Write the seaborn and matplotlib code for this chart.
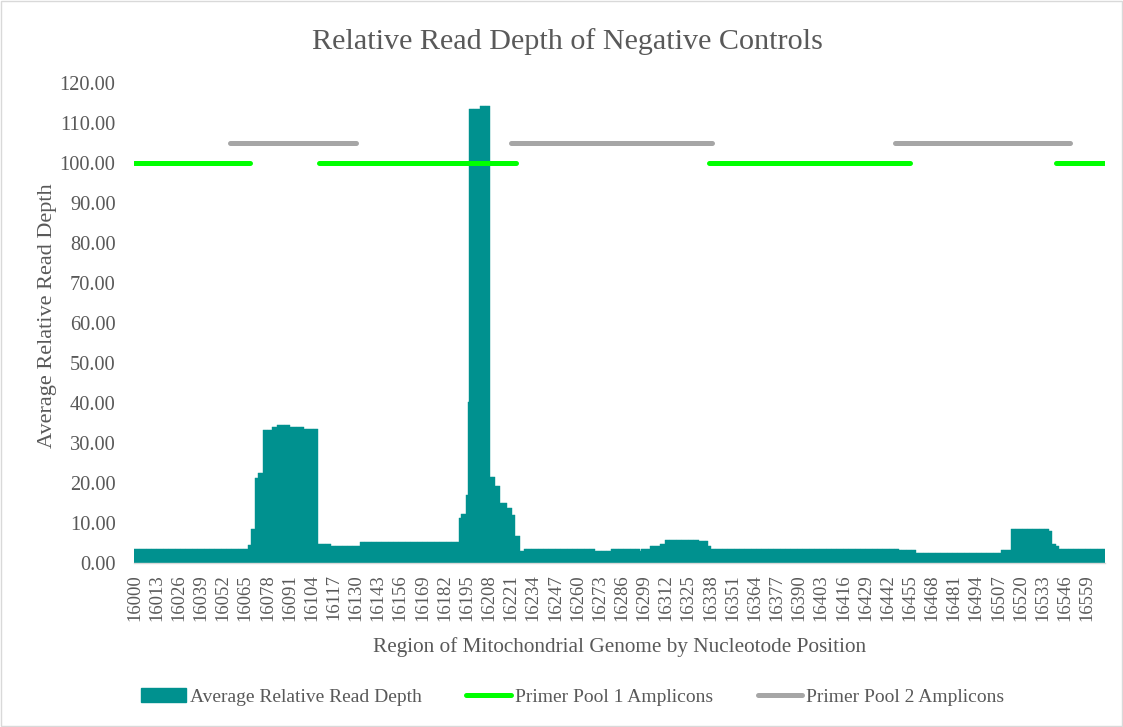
import matplotlib
matplotlib.use("Agg")
import matplotlib.pyplot as plt
from matplotlib.lines import Line2D
from matplotlib.patches import Patch, Rectangle
import seaborn as sns
import numpy as np
import pandas as pd

# nucleotide positions shown on the x axis
positions = list(range(16000, 16570))

# read depth, stored as runs of equal value (run length, value)
run_lengths = [67, 2, 2, 2, 3, 5, 3, 8, 8, 8,
               8, 17, 58, 1, 3, 1, 1, 6, 6, 3,
               3, 4, 3, 2, 3, 2, 42, 9, 17, 1,
               5, 6, 3, 20, 5, 2, 110, 10, 50, 6,
               22, 2, 2, 2, 27]
run_values = [3.6, 4.5, 8.5, 21.3, 22.6, 33.3, 34.1, 34.5, 34.1, 33.5,
              4.7, 4.3, 5.3, 11.3, 12.2, 17.1, 40.2, 113.6, 114.3, 21.5,
              19.3, 15.0, 13.8, 12.0, 6.8, 3.1, 3.6, 3.1, 3.6, 3.1,
              3.6, 4.2, 4.8, 5.8, 5.4, 4.2, 3.6, 3.2, 2.6, 3.2,
              8.5, 7.9, 4.8, 4.2, 3.6]

# amplicon spans (first and last nucleotide), drawn at a fixed level
pool1_amplicons = [(16000, 16068), (16108, 16224), (16337, 16455), (16541, 16569)]
pool2_amplicons = [(16056, 16130), (16221, 16339), (16446, 16549)]
pool1_level = 100
pool2_level = 105

depth = np.repeat(run_values, run_lengths)
df = pd.DataFrame({"position": positions, "depth": depth})

teal = "#00918F"
green = "#00FF00"
grey = "#A6A6A6"
text_col = "#595959"

sns.set_theme(style="white")
plt.rcParams["font.family"] = ["Liberation Serif", "DejaVu Serif"]

fig = plt.figure(figsize=(11.23, 7.27), dpi=100)
ax = fig.add_axes([0.119, 0.2256, 0.865, 0.6602])

sns.barplot(data=df, x="position", y="depth", color=teal, width=1.0,
            linewidth=0.3, edgecolor=teal, saturation=1, ax=ax)

for spans, level, col in [(pool1_amplicons, pool1_level, green),
                          (pool2_amplicons, pool2_level, grey)]:
    for a, b in spans:
        ax.plot([a - positions[0], b - positions[0]], [level, level], color=col,
                lw=3.6, solid_capstyle="round", zorder=3)

ax.set_xlim(-0.5, len(positions) - 0.5)
ax.set_ylim(0, 120)
ax.set_yticks(np.arange(0, 121, 10))
ax.set_yticklabels([f"{v:.2f}" for v in np.arange(0, 121, 10)])
ticks = list(range(0, len(positions), 13))
ax.set_xticks(ticks)
ax.set_xticklabels([str(positions[i]) for i in ticks], rotation=90)
ax.tick_params(axis="both", length=0, colors=text_col)
ax.tick_params(axis="y", labelsize=14.7, pad=13)
ax.tick_params(axis="x", labelsize=13.5, pad=8)

for s in ["top", "right", "left"]:
    ax.spines[s].set_visible(False)
ax.spines["bottom"].set_color("#D9D9D9")
ax.spines["bottom"].set_linewidth(1)

ax.set_xlabel("Region of Mitochondrial Genome by Nucleotode Position",
              fontsize=15.3, color=text_col, labelpad=12)
ax.set_ylabel("Average Relative Read Depth", fontsize=16, color=text_col)
ax.yaxis.set_label_coords(-0.079, 0.515)
fig.text(0.505, 0.943, "Relative Read Depth of Negative Controls",
         ha="center", va="center", fontsize=21.7, color=text_col)

handles = [Patch(facecolor=teal, edgecolor=teal),
           Line2D([0], [0], color=green, lw=3.6, solid_capstyle="round"),
           Line2D([0], [0], color=grey, lw=3.6, solid_capstyle="round")]
labels = ["Average Relative Read Depth", "Primer Pool 1 Amplicons", "Primer Pool 2 Amplicons"]
leg = fig.legend(handles, labels, loc="center", bbox_to_anchor=(0.51, 0.041), ncol=3,
                 frameon=False, fontsize=14, handlelength=2.3, handletextpad=0.2,
                 columnspacing=2.3)
for t in leg.get_texts():
    t.set_color(text_col)

fig.patches.append(Rectangle((0.001, 0.001), 0.998, 0.998, transform=fig.transFigure,
                             fill=False, edgecolor="#D9D9D9", lw=1))

fig.savefig("out.png", dpi=100)
